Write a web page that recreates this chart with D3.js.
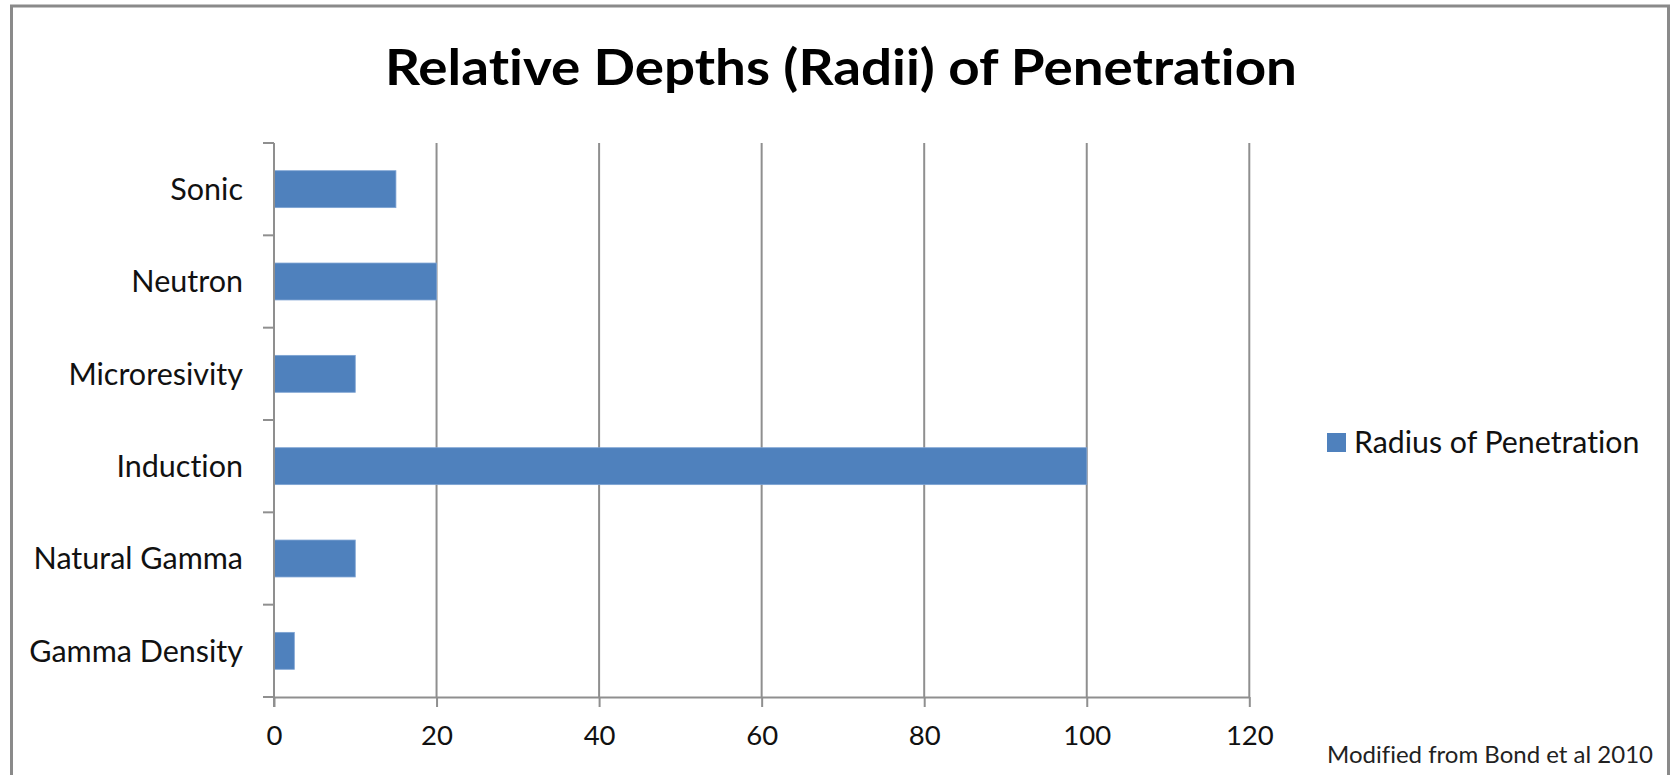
<!DOCTYPE html>
<html>
<head>
<meta charset="utf-8">
<script src="https://cdn.jsdelivr.net/npm/d3@7"></script>
<style>
  html, body { margin: 0; padding: 0; background: #fff; }
  svg { display: block; }
  text { font-family: Lato, "Open Sans", sans-serif; font-variant-ligatures: none; font-feature-settings: "liga" 0, "clig" 0; }
</style>
</head>
<body>
<svg id="chart" width="1673" height="775"></svg>
<script>
// ---- data ----
const categories = ["Sonic", "Neutron", "Microresivity", "Induction", "Natural Gamma", "Gamma Density"];
const values = [15, 20, 10, 100, 10, 2.5];
const xTicks = [0, 20, 40, 60, 80, 100, 120];
const seriesName = "Radius of Penetration";
const titleText = "Relative Depths (Radii) of Penetration";
const noteText = "Modified from Bond et al 2010";

(function () {
const svg = d3.select("#chart");
const barColor = "#4F81BD";
const gridColor = "#8f8f8f";

// outer frame
svg.append("rect")
  .attr("x", 11.5).attr("y", 6)
  .attr("width", 1657).attr("height", 800)
  .attr("fill", "#fff").attr("stroke", "#8a8a8a").attr("stroke-width", 3);

const pLeft = 274, pRight = 1249.3, pTop = 143, pBottom = 697;

const x = d3.scaleLinear().domain([0, 120]).range([pLeft, pRight]);
const y = d3.scaleBand().domain(categories).range([pTop, pBottom])
  .paddingInner(0.6).paddingOuter(0.3);

// title
svg.append("text")
  .attr("x", 841).attr("y", 85)
  .attr("text-anchor", "middle")
  .attr("font-weight", "bold")
  .attr("font-size", 49)
  .attr("textLength", 912).attr("lengthAdjust", "spacingAndGlyphs")
  .attr("fill", "#000")
  .text(titleText);

// vertical gridlines
svg.append("g").selectAll("line")
  .data(xTicks.filter(d => d > 0))
  .join("line")
  .attr("x1", d => x(d)).attr("x2", d => x(d))
  .attr("y1", pTop).attr("y2", pBottom)
  .attr("stroke", gridColor).attr("stroke-width", 2);

// bars
svg.append("g").selectAll("rect")
  .data(categories.map((c, i) => ({ c, v: values[i] })))
  .join("rect")
  .attr("x", x(0))
  .attr("y", d => y(d.c))
  .attr("width", d => x(d.v) - x(0))
  .attr("height", y.bandwidth())
  .attr("fill", barColor)
  .attr("stroke", "#7ea3d3").attr("stroke-width", 0.8);

// x axis
const xAxis = svg.append("g")
  .attr("transform", `translate(0,${pBottom})`)
  .call(d3.axisBottom(x).tickValues(xTicks).tickSize(10).tickSizeOuter(0).tickPadding(18).tickFormat(d3.format("d")));
xAxis.select(".domain").attr("stroke", gridColor).attr("stroke-width", 2);
xAxis.selectAll(".tick line").attr("stroke", gridColor).attr("stroke-width", 2);
xAxis.selectAll(".tick text")
  .attr("font-size", 27.5).attr("fill", "#111")
  .attr("font-family", "Lato, 'Open Sans', sans-serif");

// y axis line
svg.append("line")
  .attr("x1", pLeft).attr("x2", pLeft)
  .attr("y1", pTop).attr("y2", pBottom + 10)
  .attr("stroke", gridColor).attr("stroke-width", 2);

// y axis boundary ticks (between categories)
const step = y.step();
const boundaries = d3.range(categories.length + 1).map(i => pTop + i * step);
svg.append("g").selectAll("line")
  .data(boundaries)
  .join("line")
  .attr("x1", pLeft - 11).attr("x2", pLeft)
  .attr("y1", d => d).attr("y2", d => d)
  .attr("stroke", gridColor).attr("stroke-width", 2);

// y labels
svg.append("g").selectAll("text")
  .data(categories)
  .join("text")
  .attr("x", 243)
  .attr("y", d => y(d) + y.bandwidth() / 2)
  .attr("dy", "0.35em")
  .attr("text-anchor", "end")
  .attr("font-size", 30.5)
  .attr("fill", "#111")
  .text(d => d);

// legend
svg.append("rect")
  .attr("x", 1327).attr("y", 433)
  .attr("width", 19).attr("height", 19)
  .attr("fill", barColor);
svg.append("text")
  .attr("x", 1354).attr("y", 442)
  .attr("dy", "0.35em")
  .attr("font-size", 30.3)
  .attr("fill", "#111")
  .text(seriesName);

// source note
svg.append("text")
  .attr("x", 1327).attr("y", 763)
  .attr("font-size", 24)
  .attr("fill", "#222")
  .text(noteText);
})();
</script>
</body>
</html>
